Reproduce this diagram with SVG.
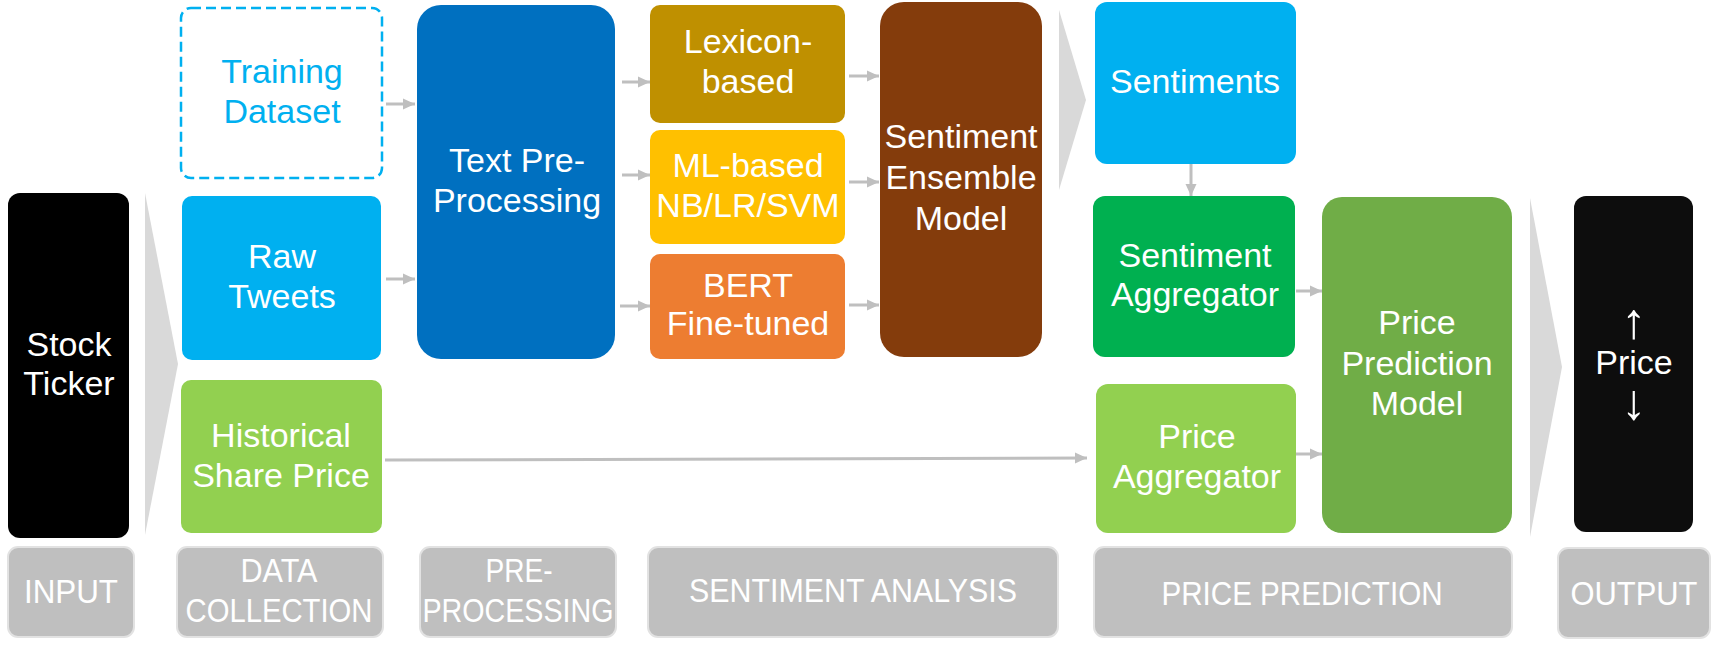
<svg xmlns="http://www.w3.org/2000/svg" width="1721" height="655" viewBox="0 0 1721 655">
<defs>
<marker id="ah" markerUnits="userSpaceOnUse" markerWidth="12" markerHeight="12" refX="12" refY="6" orient="auto">
<path d="M0,0.5 L12,6 L0,11.5 z" fill="#BFBFBF"/>
</marker>
<style>
text{font-family:"Liberation Sans","DejaVu Sans",sans-serif;font-size:34px;fill:#FFFFFF;text-anchor:middle}
.big{font-size:50px}
.lbl rect{fill:#BFBFBF;stroke:#E2E2E2;stroke-width:2}
.conn line{stroke:#BFBFBF;stroke-width:3;fill:none;marker-end:url(#ah)}
.chev{fill:#D9D9D9}
</style>
</defs>
<rect width="1721" height="655" fill="#FFFFFF"/>

<g id="chevrons">
<polygon class="chev" points="145,193 178,364 145,535"/>
<polygon class="chev" points="1059,10 1086,100 1059,190"/>
<polygon class="chev" points="1530,198 1562,367 1530,537"/>
</g>

<g id="stock-ticker"><rect x="8" y="193" width="121" height="345" rx="12" fill="#000000"/><text x="69" y="356">Stock</text><text x="69" y="395">Ticker</text></g>

<g id="training-dataset"><rect x="181" y="8" width="201" height="170" rx="10" fill="none" stroke="#00B0F0" stroke-width="2.5" stroke-dasharray="10 5"/><text x="282" y="83" style="fill:#00B0F0">Training</text><text x="282" y="123" style="fill:#00B0F0">Dataset</text></g>

<g id="raw-tweets"><rect x="182" y="196" width="199" height="164" rx="10" fill="#00B0F0"/><text x="282" y="268">Raw</text><text x="282" y="308">Tweets</text></g>

<g id="historical-share-price"><rect x="181" y="380" width="201" height="153" rx="10" fill="#92D050"/><text x="281" y="447">Historical</text><text x="281" y="487">Share Price</text></g>

<g id="text-preprocessing"><rect x="417" y="5" width="198" height="354" rx="24" fill="#0070C0"/><text x="517" y="172">Text Pre-</text><text x="517" y="212">Processing</text></g>

<g id="lexicon"><rect x="650" y="5" width="195" height="118" rx="10" fill="#BF9000"/><text x="748" y="53">Lexicon-</text><text x="748" y="93">based</text></g>

<g id="ml-based"><rect x="650" y="130" width="195" height="114" rx="10" fill="#FFC000"/><text x="748" y="177">ML-based</text><text x="748" y="217">NB/LR/SVM</text></g>

<g id="bert"><rect x="650" y="254" width="195" height="105" rx="10" fill="#ED7D31"/><text x="748" y="297">BERT</text><text x="748" y="335">Fine-tuned</text></g>

<g id="sentiment-ensemble"><rect x="880" y="2" width="162" height="355" rx="24" fill="#843C0C"/><text x="961" y="148">Sentiment</text><text x="961" y="189">Ensemble</text><text x="961" y="230">Model</text></g>

<g id="sentiments"><rect x="1095" y="2" width="201" height="162" rx="12" fill="#00B0F0"/><text x="1195" y="93">Sentiments</text></g>

<g id="sentiment-aggregator"><rect x="1093" y="196" width="202" height="161" rx="12" fill="#00B050"/><text x="1195" y="267">Sentiment</text><text x="1195" y="306">Aggregator</text></g>

<g id="price-aggregator"><rect x="1096" y="384" width="200" height="149" rx="12" fill="#92D050"/><text x="1197" y="448">Price</text><text x="1197" y="488">Aggregator</text></g>

<g id="price-prediction-model"><rect x="1322" y="197" width="190" height="336" rx="20" fill="#70AD47"/><text x="1417" y="334">Price</text><text x="1417" y="375">Prediction</text><text x="1417" y="415">Model</text></g>

<g id="output-price"><rect x="1574" y="196" width="119" height="336" rx="12" fill="#0D0D0D"/><text class="big" x="1634" y="338">↑</text><text x="1634" y="374">Price</text><text class="big" x="1634" y="419">↓</text></g>

<g id="connectors" class="conn">
<line x1="386" y1="104" x2="415" y2="104"/>
<line x1="386" y1="279" x2="415" y2="279"/>
<line x1="622" y1="82" x2="650" y2="82"/>
<line x1="622" y1="175" x2="650" y2="175"/>
<line x1="620" y1="306" x2="650" y2="306"/>
<line x1="849" y1="76" x2="879" y2="76"/>
<line x1="849" y1="182" x2="879" y2="182"/>
<line x1="849" y1="305" x2="879" y2="305"/>
<line x1="1191" y1="164" x2="1191" y2="196"/>
<line x1="1296" y1="291" x2="1322" y2="291"/>
<line x1="1296" y1="454" x2="1322" y2="454"/>
<line x1="385" y1="460" x2="1087" y2="458"/>
</g>

<g id="stage-labels">
<g id="lbl-input" class="lbl"><rect x="8" y="547" width="126" height="90" rx="10"/><text x="71" y="603" textLength="94" lengthAdjust="spacingAndGlyphs">INPUT</text></g>
<g id="lbl-data" class="lbl"><rect x="177" y="547" width="206" height="90" rx="10"/><text x="279" y="582" textLength="77" lengthAdjust="spacingAndGlyphs">DATA</text><text x="279" y="622" textLength="187" lengthAdjust="spacingAndGlyphs">COLLECTION</text></g>
<g id="lbl-pre" class="lbl"><rect x="420" y="547" width="196" height="90" rx="10"/><text x="519" y="582" textLength="67" lengthAdjust="spacingAndGlyphs">PRE-</text><text x="518" y="622" textLength="191" lengthAdjust="spacingAndGlyphs">PROCESSING</text></g>
<g id="lbl-sent" class="lbl"><rect x="648" y="547" width="410" height="90" rx="10"/><text x="853" y="602" textLength="328" lengthAdjust="spacingAndGlyphs">SENTIMENT ANALYSIS</text></g>
<g id="lbl-price" class="lbl"><rect x="1094" y="547" width="418" height="90" rx="10"/><text x="1302" y="605" textLength="281" lengthAdjust="spacingAndGlyphs">PRICE PREDICTION</text></g>
<g id="lbl-output" class="lbl"><rect x="1558" y="548" width="152" height="90" rx="10"/><text x="1634" y="605" textLength="127" lengthAdjust="spacingAndGlyphs">OUTPUT</text></g>
</g>
</svg>
